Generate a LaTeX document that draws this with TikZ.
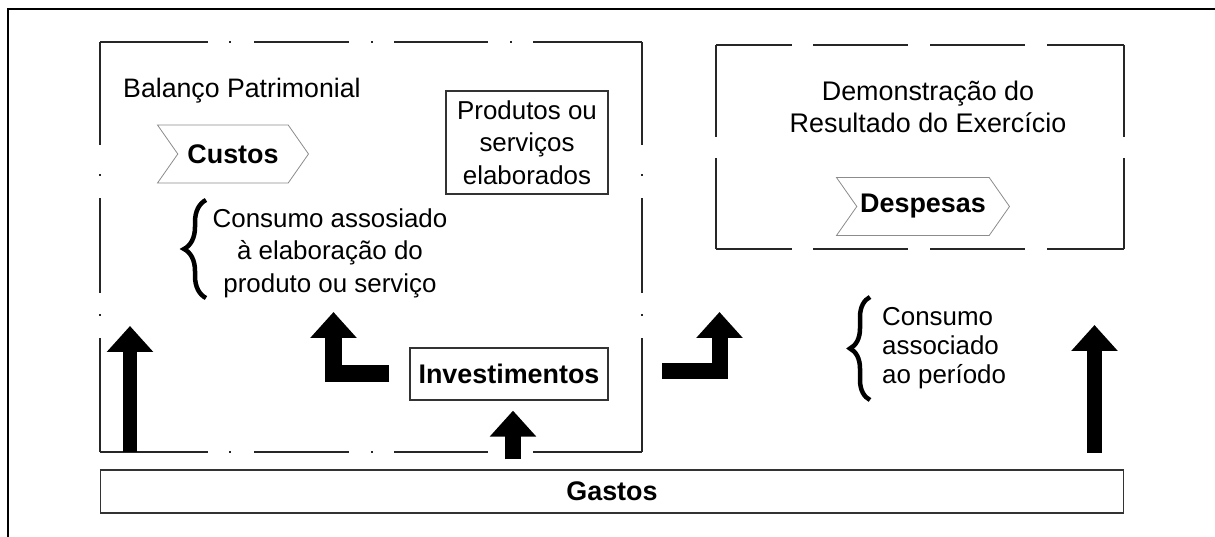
\documentclass[tikz,border=0pt]{standalone}
\usepackage{fontspec}
\setmainfont{Liberation Sans}
\usetikzlibrary{shapes.symbols,arrows.meta,decorations.pathreplacing}

\begin{document}
\begin{tikzpicture}[x=1bp,y=-1bp,
  every node/.style={font=\fontsize{26}{32.5}\selectfont},
  box/.style={draw=black!80,line width=1.3bp},
  heavy/.style={font=\fontsize{27}{32.5}\selectfont\bfseries},
  chev/.style={signal,signal to=east,signal from=west,signal pointer angle=110,
    draw=black!45,line width=0.8bp,fill=white,minimum height=58bp,heavy},
  fat/.style={line width=#1,line join=miter,-{Triangle[width=45bp,length=26bp]}},
  frame/.style={draw=black!85,line width=1.3bp},
  curly/.style={decorate,decoration={brace,amplitude=#1},line width=4.5bp}]

\useasboundingbox (0,0) rectangle (1215,537);
\draw[line width=2bp] (8,537) -- (8,9) -- (1215,9);

% Balanco Patrimonial frame
\foreach \a/\b in {100/208,229/231,254/349,371/373,394/488,510/512,533/642}
  \draw[frame] (\a,42) -- (\b,42);
\foreach \a/\b in {100/208,229/231,254/349,371/373,394/488,533/642}
  \draw[frame] (\a,452) -- (\b,452);
\foreach \a/\b in {42/145,174/176,198/293,314/316,338/452} {
  \draw[frame] (100,\a) -- (100,\b);
  \draw[frame] (642,\a) -- (642,\b);
}

% DRE frame
\foreach \a/\b in {716/792,813/908,930/1025,1047/1124} {
  \draw[frame] (\a,45) -- (\b,45);
  \draw[frame] (\a,249) -- (\b,249);
}
\foreach \a/\b in {45/137,158/249} {
  \draw[frame] (716,\a) -- (716,\b);
  \draw[frame] (1124,\a) -- (1124,\b);
}

\node[anchor=base west,inner sep=0pt,font=\fontsize{26.8}{32}\selectfont] (bal) at (123,98) {Balanço Patrimonial};
\node[chev,minimum width=151bp] (custos) at (233,154) {Custos};
\node[box,minimum width=162bp,minimum height=103bp,align=center,inner sep=0pt]
  (produtos) at (527,142.5) {Produtos ou\\serviços\\elaborados};
\node[align=center,inner sep=0pt] (consprod) at (330,253)
  {Consumo assosiado\\à elaboração do\\produto ou serviço};
\draw[curly=22bp] (206,298) -- (206,200);

\node[box,heavy,minimum width=198bp,minimum height=52bp] (invest) at (509,374) {Investimentos};
\node[box,heavy,minimum width=1023bp,minimum height=43bp] (gastos) at (612,491.5) {Gastos};

\node[align=center,inner sep=0pt,font=\fontsize{27}{32}\selectfont] (dre) at (928,107)
  {Demonstração do\\Resultado do Exercício};
\node[chev,minimum width=173bp] (despesas) at (923,206.5) {Despesas};

\node[align=left,anchor=west,inner sep=0pt,font=\fontsize{26}{29}\selectfont] (consper) at (882,348)
  {Consumo\\associado\\ao período};
\draw[curly=20bp] (870,400) -- (870,297);

% arrows
\coordinate (lfoot) at (130,452);
\coordinate (ltop) at (130,326);
\coordinate (rfoot) at (1094.5,453);
\coordinate (rtop) at (1094.5,325);
\draw[fat=14bp] (lfoot) -- (ltop);
\draw[fat=15bp] (rfoot) -- (rtop);
\draw[fat=16bp] ([yshift=10bp]gastos.north -| 513,0) -- ([yshift=-10bp]invest.south -| 513,0);
\draw[fat=17bp] ([xshift=-20bp]invest.west) -| (333.5,312);
\draw[fat=16bp] (662,371.5) -| (719.5,312);
\end{tikzpicture}
\end{document}
